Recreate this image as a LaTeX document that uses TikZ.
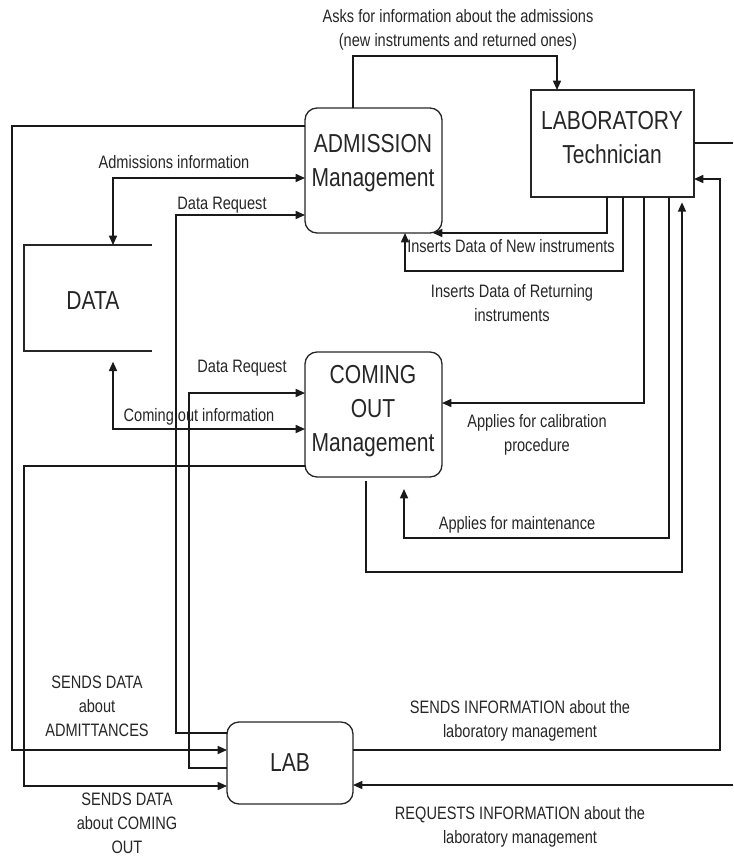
\documentclass[tikz,border=0pt]{standalone}
\usepackage{fontspec}
\setmainfont{Liberation Sans}[FakeStretch=0.81]
\usetikzlibrary{arrows.meta}
\begin{document}
\begin{tikzpicture}[x=0.75pt,y=-0.75pt,
  conn/.style={line width=1.2pt, draw=black!90},
  arr/.style={conn,-{Triangle[length=7pt,width=6pt]}},
  arrr/.style={conn,{Triangle[length=7pt,width=6pt]}-{Triangle[length=7pt,width=6pt]}},
  mgmt/.style={draw=black!85, line width=1pt, rounded corners=9pt, inner sep=0pt, outer sep=0pt, minimum width=102.75pt, minimum height=93.75pt},
  techbox/.style={draw=black!85, line width=1pt, inner sep=0pt, outer sep=0pt, minimum width=122.25pt, minimum height=80.25pt},
  labbox/.style={draw=black!85, line width=1pt, rounded corners=9pt, inner sep=0pt, outer sep=0pt, minimum width=94.5pt, minimum height=61.5pt},
  storebox/.style={inner sep=0pt, outer sep=0pt, minimum width=96pt, minimum height=79.5pt},
  storeline/.style={draw=black!85, line width=1pt},
  lbl/.style={font=\fontsize{13.5pt}{18pt}\selectfont, align=center, text=black!85, inner sep=0pt},
  btxt/.style={font=\fontsize{19.5pt}{25.5pt}\selectfont, align=center, text=black!85, inner sep=0pt},
]
\useasboundingbox (0,0) rectangle (733,856);

% boxes
\node[mgmt] (adm) at (373.5,170.5) {};
\node[btxt] (admt) at (373,163) {ADMISSION\\Management};
\node[techbox] (tech) at (612.5,143.5) {};
\node[btxt] (techt) at (612,138) {LABORATORY\\Technician};
\node[mgmt] (cout) at (373.5,414.5) {};
\node[btxt] (coutt) at (373,411) {COMING\\OUT\\Management};
\node[labbox] (lab) at (290,763) {};
\node[btxt] (labt) at (290,763) {LAB};
\node[storebox] (data) at (88,298) {};
\node[btxt] (datat) at (93,301) {DATA};
\draw[storeline] (data.north east) -- (data.north west) -- (data.south west) -- (data.south east);

\coordinate (edgeA) at (733,143);
\coordinate (edgeB) at (733,785);

% connectors
\draw[arr] (adm.north -| 353,0) |- (557,56) -- (tech.north -| 557,0);
\draw[arr] (adm.west |- 0,126) -| (12,750) -- (lab.west |- 0,750);
\draw[arrr] (data.north -| 113,0) |- (adm.west |- 0,178);
\draw[arr] (lab.west |- 0,733) -| (176,215) -- (adm.west |- 0,215);
\draw[arr] (lab.west |- 0,768) -| (189,393) -- (cout.west |- 0,393);
\draw[arrr, shorten <=8pt] (data.south -| 113,0) |- (cout.west |- 0,429);
\draw[arr] (cout.west |- 0,466) -| (24,786) -- (lab.west |- 0,786);
\draw[arr] (lab.east |- 0,750) -| (720,179) -- (tech.east |- 0,179);
\draw[conn] (tech.east |- 0,143) -- (edgeA);
\draw[arr] (edgeB) -- (lab.east |- 0,785);
\draw[arr] (tech.south -| 607,0) |- (adm.south -| 433,0);
\draw[arr] (tech.south -| 623,0) |- (405,271) -- (adm.south -| 405,0);
\draw[arr] (tech.south -| 644,0) |- (cout.east |- 0,403);
\draw[arr, shorten >=9pt] (tech.south -| 669,0) |- (404,538) -- (cout.south -| 404,0);
\draw[arr, shorten <=3pt, shorten >=4pt] (cout.south -| 366,0) |- (682,572) -- (tech.south -| 682,0);

% labels
\node[lbl] (l1) at (458,30) {Asks for information about the admissions\\(new instruments and returned ones)};
\node[lbl] (l2) at (174,162) {Admissions information};
\node[lbl] (l3) at (222,205) {Data Request};
\node[lbl] (l4) at (242,368) {Data Request};
\node[lbl] (l5) at (199,417) {Coming out information};
\node[lbl] (l6) at (511,246) {Inserts Data of New instruments};
\node[lbl] (l7) at (512,303) {Inserts Data of Returning\\instruments};
\node[lbl] (l8) at (537,435) {Applies for calibration\\procedure};
\node[lbl] (l9) at (517,525) {Applies for maintenance};
\node[lbl] (l10) at (97,706) {SENDS DATA\\about\\ADMITTANCES};
\node[lbl] (l11) at (127,823) {SENDS DATA\\about COMING\\OUT};
\node[lbl] (l12) at (520,721) {SENDS INFORMATION about the\\laboratory management};
\node[lbl] (l13) at (520,827) {REQUESTS INFORMATION about the\\laboratory management};
\end{tikzpicture}
\end{document}
